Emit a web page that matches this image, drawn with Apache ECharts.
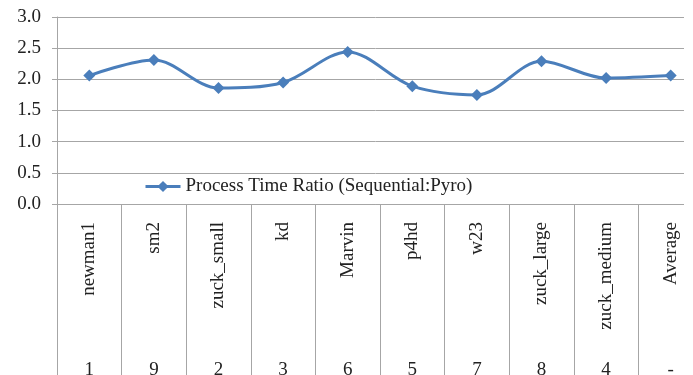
<!DOCTYPE html>
<html><head><meta charset="utf-8">
<script src="https://cdn.jsdelivr.net/npm/echarts@6/dist/echarts.min.js"></script>
<style>html,body{margin:0;padding:0;background:#fff}#c{width:693px;height:375px}</style>
</head><body><div id="c"></div>
<script>
const categories = ['newman1','sm2','zuck_small','kd','Marvin','p4hd','w23','zuck_large','zuck_medium','Average'];
const ranks = ['1','9','2','3','6','5','7','8','4','-'];
const ratios = [2.06, 2.31, 1.86, 1.95, 2.44, 1.89, 1.75, 2.29, 2.02, 2.06];
const yTicks = [0, 0.5, 1.0, 1.5, 2.0, 2.5, 3.0];
const seriesName = 'Process Time Ratio (Sequential:Pyro)';

const chart = echarts.init(document.getElementById('c'));
const font = 'Liberation Serif';
const gridColor = '#a6a6a6';
const txt = '#222';
chart.setOption({
  animation: false,
  textStyle: { fontFamily: font },
  grid: { left: 57, top: 17, width: 646, height: 187, containLabel: false, outerBoundsMode: 'none' },
  legend: {
    left: 139, top: 172,
    itemWidth: 35, itemHeight: 14, itemGap: 5,
    lineStyle: { width: 3 },
    textStyle: { fontFamily: font, fontSize: 19, color: txt },
    data: [seriesName]
  },
  xAxis: [{
    type: 'category', data: categories, boundaryGap: true,
    axisLine: { lineStyle: { color: gridColor } },
    axisTick: { show: true, interval: 0, length: 175, lineStyle: { color: gridColor } },
    axisLabel: { interval: 0, rotate: 90, margin: 18, fontSize: 19, color: txt, fontFamily: font }
  }, {
    type: 'category', data: ranks, position: 'bottom', offset: 149,
    axisLine: { show: false }, axisTick: { show: false },
    axisLabel: { interval: 0, margin: 8, fontSize: 19, color: txt, fontFamily: font }
  }],
  yAxis: {
    type: 'value', min: yTicks[0], max: yTicks[yTicks.length - 1], interval: 0.5,
    axisLine: { show: true, lineStyle: { color: gridColor } },
    axisTick: { show: true, length: 5, lineStyle: { color: gridColor } },
    splitLine: { lineStyle: { color: gridColor } },
    axisLabel: { margin: 16, fontSize: 19, color: txt, fontFamily: font,
      formatter: v => v.toFixed(1) }
  },
  series: [{
    name: seriesName, type: 'line', data: ratios, smooth: 0.33,
    symbol: 'diamond', symbolSize: 12,
    lineStyle: { color: '#4a7ebb', width: 3 },
    itemStyle: { color: '#4a7ebb' }
  }],
  graphic: [{ type: 'rect', left: 684, top: 0, shape: { width: 10, height: 210 }, style: { fill: '#fff' }, z: 100 }]
});
</script></body></html>
